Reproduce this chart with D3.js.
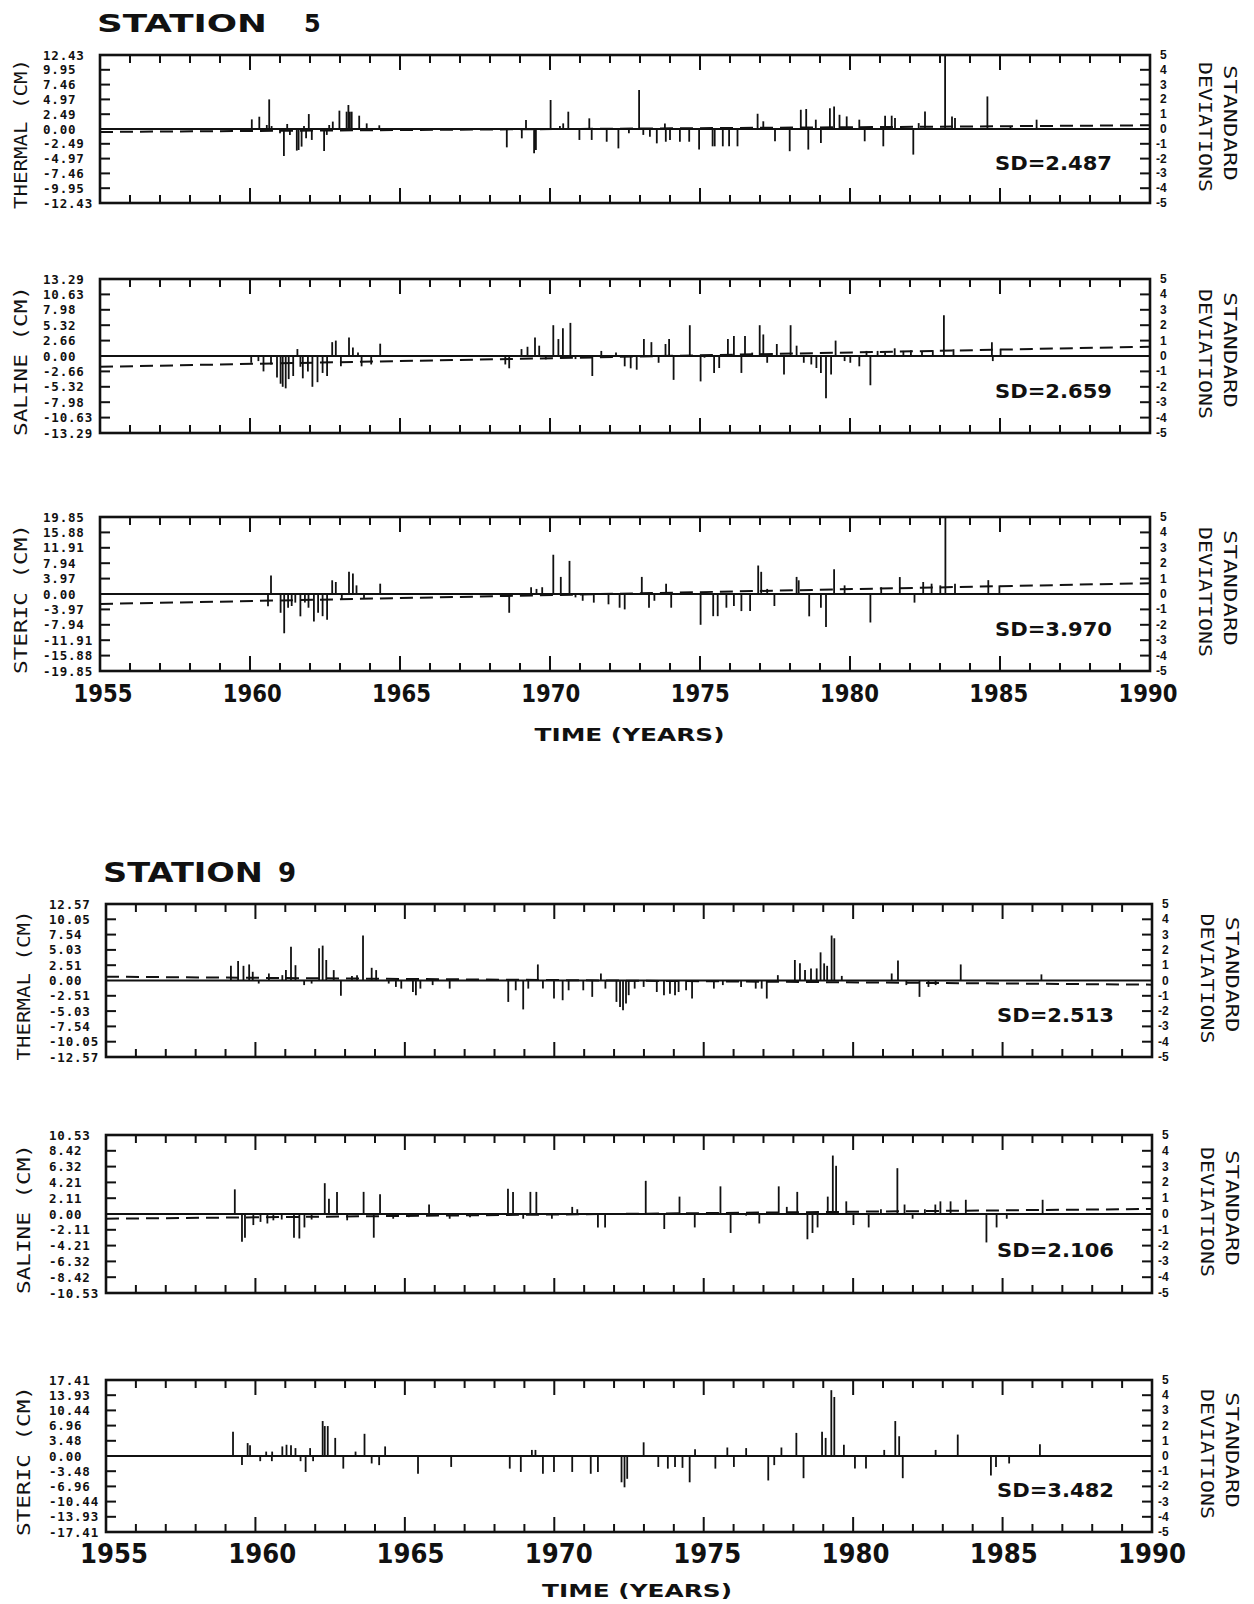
<!DOCTYPE html>
<html>
<head>
<meta charset="utf-8">
<script src="https://cdn.jsdelivr.net/npm/d3@7"></script>
<style>
  body { margin: 0; background: #fff; }
  svg { display: block; }
</style>
</head>
<body>
<svg id="chart" width="1254" height="1604"></svg>
<script>
// anomalies in standard-deviation units: [year, sd]
const s5Thermal = [
  [1960.06,0.65],[1960.31,0.83],[1960.56,0.27],[1960.64,2.0],[1960.72,0.2],[1961.0,-0.29],[1961.13,-1.82],[1961.24,0.34],
  [1961.33,-0.4],[1961.56,-1.46],[1961.62,-1.42],[1961.72,-1.19],[1961.8,0.2],[1961.87,-0.63],[1961.96,1.01],[1962.06,-0.74],
  [1962.47,-1.49],[1962.56,-0.4],[1962.64,0.27],[1962.76,0.5],[1962.98,1.24],[1963.22,1.17],[1963.28,1.62],[1963.33,1.17],
  [1963.39,1.17],[1963.64,0.9],[1963.89,0.38],[1964.31,0.25],
  [1968.56,-1.24],[1969.06,-0.63],[1969.2,0.61],[1969.47,-1.64],[1969.53,-1.42],[1970.02,1.96],[1970.33,0.2],[1970.44,0.38],
  [1970.61,1.17],[1970.98,-0.74],[1971.31,0.72],[1971.39,-0.74],[1971.89,-0.86],[1972.28,-1.31],[1972.63,-0.29],[1972.97,2.64],
  [1973.11,-0.4],[1973.33,-0.52],[1973.56,-0.97],[1973.83,0.38],[1973.86,-0.86],[1974.0,-0.74],[1974.33,-0.86],[1974.64,-0.86],
  [1974.97,-1.39],[1975.42,-1.17],[1975.49,-1.17],[1975.76,-1.17],[1975.97,-1.17],[1976.25,-1.17],[1976.92,1.03],[1977.11,0.52],
  [1977.5,-0.83],[1977.99,-1.5],[1978.36,1.3],[1978.54,1.35],[1978.61,-1.39],[1978.86,0.63],[1979.03,-0.94],[1979.33,1.41],
  [1979.47,1.52],[1979.65,0.96],[1979.89,0.85],[1980.31,0.63],[1980.49,-0.83],[1981.11,-1.17],[1981.17,0.9],[1981.39,0.9],
  [1981.5,0.74],[1982.11,-1.73],[1982.29,0.4],[1982.5,1.19],[1983.17,5.0],[1983.4,0.85],[1983.5,0.74],[1984.58,2.2],
  [1985.35,0.2],[1986.22,0.63]
];
const s5Saline = [
  [1960.04,-0.44],[1960.28,-0.33],[1960.45,-1.0],[1960.7,-0.56],[1960.9,-1.4],[1961.02,-1.8],[1961.09,-2.0],[1961.19,-2.1],
  [1961.29,-1.5],[1961.44,-1.3],[1961.58,0.45],[1961.68,-0.7],[1961.76,-1.45],[1961.93,-1.0],[1962.08,-2.0],[1962.25,-1.7],
  [1962.42,-1.1],[1962.57,-1.3],[1962.74,0.9],[1962.86,1.0],[1963.03,-0.67],[1963.3,1.2],[1963.43,0.55],[1963.6,0.22],
  [1963.72,-0.67],[1964.04,-0.55],[1964.34,0.8],
  [1968.51,-0.55],[1968.64,-0.8],[1969.05,0.45],[1969.25,0.6],[1969.5,1.2],[1969.64,0.67],[1969.86,-0.22],[1970.11,2.0],
  [1970.28,1.1],[1970.43,1.8],[1970.68,2.15],[1970.85,-0.2],[1971.41,-1.3],[1971.71,0.33],[1972.2,0.22],[1972.49,-0.67],
  [1972.69,-0.8],[1972.89,-0.89],[1973.13,1.1],[1973.38,0.9],[1973.62,-0.44],[1973.85,0.78],[1973.97,1.1],[1974.12,-1.55],
  [1974.66,2.0],[1975.02,-1.65],[1975.15,-0.11],[1975.47,-1.1],[1975.64,-0.78],[1975.93,1.1],[1976.13,1.3],[1976.38,-1.1],
  [1976.5,1.3],[1976.74,0.22],[1976.99,2.0],[1977.11,1.4],[1977.24,-0.44],[1977.56,0.78],[1977.8,-1.2],[1978.02,2.0],
  [1978.22,0.67],[1978.46,-0.44],[1978.71,-0.55],[1978.88,-0.78],[1979.03,-1.1],[1979.2,-2.75],[1979.37,-1.2],[1979.52,1.0],
  [1979.82,-0.33],[1980.01,-0.44],[1980.31,-0.67],[1980.55,0.33],[1980.68,-1.9],[1980.92,0.33],[1981.17,0.22],[1981.49,0.5],
  [1981.78,0.33],[1982.03,0.38],[1982.4,0.29],[1982.76,0.38],[1983.13,2.65],[1983.45,0.44],[1984.73,0.9],[1984.76,-0.33],
  [1985.02,0.44]
];
const s5Steric = [
  [1960.6,-0.8],[1960.7,1.2],[1961.02,-1.22],[1961.14,-2.55],[1961.27,-0.89],[1961.39,-0.78],[1961.51,-0.56],[1961.68,-1.45],
  [1961.83,-0.56],[1961.95,-0.89],[1962.13,-1.78],[1962.27,-1.22],[1962.42,-1.44],[1962.57,-1.67],[1962.74,0.89],[1962.86,0.78],
  [1963.06,-0.33],[1963.3,1.44],[1963.43,1.33],[1963.55,0.56],[1963.8,-0.33],[1964.34,0.67],
  [1968.64,-1.22],[1969.37,0.44],[1969.55,0.33],[1969.74,0.44],[1970.11,2.55],[1970.36,1.11],[1970.65,2.15],[1970.85,-0.22],
  [1971.09,-0.44],[1971.46,-0.56],[1971.95,-0.67],[1972.32,-0.89],[1972.49,-1.0],[1973.06,1.11],[1973.3,-0.89],[1973.48,-0.44],
  [1973.87,0.67],[1974.04,-0.89],[1975.02,-2.0],[1975.44,-1.44],[1975.59,-1.44],[1975.88,-0.89],[1976.13,-0.78],[1976.38,-1.11],
  [1976.67,-1.11],[1976.94,1.85],[1977.04,1.44],[1977.24,0.33],[1977.48,-0.78],[1978.22,1.11],[1978.29,0.89],[1978.64,-1.45],
  [1979.03,-0.89],[1979.2,-2.15],[1979.47,1.6],[1979.82,0.56],[1980.68,-1.85],[1981.04,0.44],[1981.66,1.1],[1982.15,-0.56],
  [1982.44,0.78],[1982.72,0.67],[1983.01,0.56],[1983.18,5.0],[1983.5,0.67],[1984.61,0.9],[1984.98,0.56]
];
const s9Thermal = [
  [1959.18,0.96],[1959.42,1.27],[1959.6,0.96],[1959.79,1.05],[1959.91,0.57],[1960.11,-0.2],[1960.45,0.46],[1960.9,0.35],
  [1961.02,0.68],[1961.19,2.21],[1961.34,1.0],[1961.63,-0.3],[1961.88,-0.2],[1962.13,2.1],[1962.25,2.28],[1962.37,1.34],
  [1962.62,0.68],[1962.86,-1.0],[1963.23,0.3],[1963.4,0.35],[1963.6,2.94],[1963.89,0.83],[1964.04,0.68],[1964.46,-0.2],
  [1964.7,-0.42],[1964.88,-0.53],[1965.27,-0.75],[1965.37,-0.96],[1965.52,-0.53],[1965.93,-0.3],[1966.5,-0.53],
  [1968.46,-1.4],[1968.71,-0.64],[1968.96,-1.89],[1969.13,-0.53],[1969.45,1.05],[1969.62,-0.53],[1969.99,-1.18],[1970.28,-1.29],
  [1970.48,-0.64],[1970.97,-0.64],[1971.27,-1.07],[1971.56,0.46],[1971.71,-0.53],[1972.08,-1.4],[1972.2,-1.73],[1972.3,-1.95],
  [1972.4,-1.51],[1972.49,-0.96],[1972.69,-0.53],[1972.99,-0.42],[1973.43,-0.75],[1973.67,-0.96],[1973.87,-0.86],[1974.04,-0.96],
  [1974.16,-0.75],[1974.41,-0.64],[1974.61,-1.18],[1975.34,-0.53],[1975.64,-0.3],[1976.25,-0.42],[1976.74,-0.53],[1976.94,-0.53],
  [1977.11,-1.18],[1977.48,0.35],[1978.05,1.34],[1978.22,1.12],[1978.39,0.68],[1978.59,0.79],[1978.78,0.79],[1978.91,1.84],
  [1979.03,1.12],[1979.13,0.96],[1979.28,2.94],[1979.37,2.76],[1979.62,0.3],[1981.29,0.46],[1981.5,1.3],[1981.78,-0.3],
  [1982.22,-1.07],[1982.52,-0.42],[1982.76,-0.3],[1983.6,1.05],[1986.3,0.4]
];
const s9Saline = [
  [1959.31,1.56],[1959.55,-1.75],[1959.65,-1.5],[1959.93,-0.7],[1960.17,-0.5],[1960.4,-0.6],[1960.6,-0.4],[1960.88,-0.35],
  [1961.29,-1.5],[1961.47,-1.55],[1961.64,-0.85],[1961.88,-0.35],[1962.32,1.95],[1962.46,0.97],[1962.73,1.4],[1963.07,-0.4],
  [1963.62,1.4],[1963.96,-1.5],[1964.17,1.25],[1964.61,-0.3],[1965.13,-0.2],[1965.81,0.6],[1966.5,-0.3],[1967.18,-0.2],
  [1968.45,1.6],[1968.62,1.4],[1968.96,-0.3],[1969.2,1.4],[1969.4,1.4],[1969.92,-0.3],[1970.6,0.45],[1970.77,0.3],
  [1971.46,-0.85],[1971.7,-0.85],[1973.06,2.1],[1973.68,-0.95],[1974.19,1.1],[1974.7,-0.85],[1975.56,1.75],[1975.9,-1.2],
  [1976.42,-0.1],[1976.86,-0.6],[1977.51,1.75],[1977.78,0.45],[1978.13,1.4],[1978.47,-1.6],[1978.64,-1.2],[1978.81,-0.85],
  [1979.15,1.1],[1979.32,3.7],[1979.43,3.05],[1979.77,0.8],[1980.01,-0.7],[1980.52,-0.85],[1980.93,0.3],[1981.48,2.9],
  [1981.72,0.6],[1981.99,-0.3],[1982.4,0.3],[1982.75,0.6],[1982.92,0.8],[1983.26,0.8],[1983.77,0.9],[1984.46,-1.8],
  [1984.8,-0.85],[1985.14,-0.3],[1986.34,0.9]
];
const s9Steric = [
  [1959.25,1.59],[1959.55,-0.6],[1959.74,0.85],[1959.82,0.7],[1960.16,-0.34],[1960.36,0.29],[1960.55,-0.34],[1960.56,0.29],
  [1960.9,0.63],[1961.04,0.74],[1961.19,0.7],[1961.34,0.52],[1961.51,-0.34],[1961.68,-1.05],[1961.83,0.52],[1961.93,-0.34],
  [1962.25,2.3],[1962.32,1.97],[1962.42,1.97],[1962.67,1.19],[1962.94,-0.83],[1963.35,0.29],[1963.65,1.46],[1963.89,-0.49],
  [1964.14,-0.6],[1964.34,0.63],[1965.44,-1.17],[1966.55,-0.72],[1968.51,-0.83],[1968.88,-1.05],[1969.25,0.4],[1969.37,0.4],
  [1969.62,-1.17],[1969.99,-1.05],[1970.6,-1.05],[1971.22,-1.17],[1971.46,-1.05],[1972.25,-1.73],[1972.35,-2.06],[1972.44,-1.5],
  [1972.99,0.9],[1973.48,-0.72],[1973.8,-0.83],[1974.04,-0.72],[1974.29,-0.78],[1974.53,-1.73],[1974.71,0.45],[1975.39,-0.83],
  [1975.79,0.56],[1976.01,-0.72],[1976.42,0.52],[1977.16,-1.61],[1977.36,-0.6],[1977.6,0.56],[1978.1,1.52],[1978.34,-1.46],
  [1978.96,1.59],[1979.08,1.19],[1979.27,4.33],[1979.37,3.88],[1979.69,0.74],[1980.06,-0.83],[1980.43,-0.83],[1981.04,0.4],
  [1981.41,2.3],[1981.54,1.3],[1981.66,-1.46],[1982.76,0.4],[1983.5,1.41],[1984.61,-1.28],[1984.78,-0.72],[1985.22,-0.49],
  [1986.25,0.78]
];

// dashed trend lines: sd value at 1955 and at 1990
const s5ThermalTrend = [-0.2, 0.25];
const s5SalineTrend = [-0.7, 0.6];
const s5StericTrend = [-0.65, 0.7];
const s9ThermalTrend = [0.25, -0.27];
const s9SalineTrend = [-0.3, 0.32];

// left tick labels, top to bottom (+5 sd .. -5 sd)
const s5ThermalLabels = ["12.43","9.95","7.46","4.97","2.49","0.00","-2.49","-4.97","-7.46","-9.95","-12.43"];
const s5SalineLabels = ["13.29","10.63","7.98","5.32","2.66","0.00","-2.66","-5.32","-7.98","-10.63","-13.29"];
const s5StericLabels = ["19.85","15.88","11.91","7.94","3.97","0.00","-3.97","-7.94","-11.91","-15.88","-19.85"];
const s9ThermalLabels = ["12.57","10.05","7.54","5.03","2.51","0.00","-2.51","-5.03","-7.54","-10.05","-12.57"];
const s9SalineLabels = ["10.53","8.42","6.32","4.21","2.11","0.00","-2.11","-4.21","-6.32","-8.42","-10.53"];
const s9StericLabels = ["17.41","13.93","10.44","6.96","3.48","0.00","-3.48","-6.96","-10.44","-13.93","-17.41"];

const sdLevels = [5, 4, 3, 2, 1, 0, -1, -2, -3, -4, -5];
const yearTicks = d3.range(1955, 1991);
const yearLabels = [1955, 1960, 1965, 1970, 1975, 1980, 1985, 1990];
const s5Sd = ["2.487", "2.659", "3.970"];
const s9Sd = ["2.513", "2.106", "3.482"];
const panelNames = ["THERMAL (CM)", "SALINE (CM)", "STERIC (CM)"];

const svg = d3.select("#chart");
const ink = "#111";
const heavy = "'DejaVu Sans', 'Liberation Sans', Arial, sans-serif";

function drawPanel(x, top, bottom, bars, trend, labels, sd, name, labelX, titleX) {
    let y = d3.scaleLinear().domain([-5, 5]).range([bottom, top]);
    let x0 = x.range()[0], x1 = x.range()[1];
    let g = svg.append("g");

    // bars
    g.selectAll("line.bar")
        .data(bars)
        .enter()
        .append("line")
        .attr("x1", d => x(d[0]))
        .attr("x2", d => x(d[0]))
        .attr("y1", y(0))
        .attr("y2", d => y(Math.max(-5, Math.min(5, d[1]))))
        .attr("stroke", ink)
        .attr("stroke-width", 1.8);

    // trend (dashed)
    if (trend) {
        g.append("line")
            .attr("x1", x(1955)).attr("y1", y(trend[0]))
            .attr("x2", x(1990)).attr("y2", y(trend[1]))
            .attr("stroke", ink).attr("stroke-width", 2)
            .attr("stroke-dasharray", "13,7");
    }

    // zero line
    g.append("line")
        .attr("x1", x0).attr("x2", x1)
        .attr("y1", y(0)).attr("y2", y(0))
        .attr("stroke", ink).attr("stroke-width", 2.2);

    // frame
    g.append("rect")
        .attr("x", x0).attr("y", top)
        .attr("width", x1 - x0).attr("height", bottom - top)
        .attr("fill", "none").attr("stroke", ink).attr("stroke-width", 2.6);

    // year ticks, top and bottom
    let tickLen = d => (d % 5 == 0 ? 15 : 8);
    g.selectAll("line.ttop")
        .data(yearTicks.slice(1, -1))
        .enter()
        .append("line")
        .attr("x1", d => x(d)).attr("x2", d => x(d))
        .attr("y1", top).attr("y2", d => top + tickLen(d))
        .attr("stroke", ink).attr("stroke-width", 2);
    g.selectAll("line.tbot")
        .data(yearTicks.slice(1, -1))
        .enter()
        .append("line")
        .attr("x1", d => x(d)).attr("x2", d => x(d))
        .attr("y1", bottom).attr("y2", d => bottom - tickLen(d))
        .attr("stroke", ink).attr("stroke-width", 2);

    // sd ticks, left and right
    let inner = sdLevels.filter(d => Math.abs(d) < 5 && d != 0);
    g.selectAll("line.tl")
        .data(inner)
        .enter()
        .append("line")
        .attr("x1", x0).attr("x2", x0 + 10)
        .attr("y1", d => y(d)).attr("y2", d => y(d))
        .attr("stroke", ink).attr("stroke-width", 2);
    g.selectAll("line.tr")
        .data(inner)
        .enter()
        .append("line")
        .attr("x1", x1).attr("x2", x1 - 10)
        .attr("y1", d => y(d)).attr("y2", d => y(d))
        .attr("stroke", ink).attr("stroke-width", 2);

    // left labels (cm)
    g.selectAll("text.ll")
        .data(labels)
        .enter()
        .append("text")
        .attr("x", labelX)
        .attr("y", (d, i) => y(sdLevels[i]))
        .attr("dominant-baseline", "central")
        .attr("font-family", "'DejaVu Sans Mono', monospace")
        .attr("font-weight", "bold")
        .attr("font-size", 12.5)
        .attr("letter-spacing", 0.8)
        .attr("fill", ink)
        .text(d => d);

    // right labels (sd)
    g.selectAll("text.rl")
        .data(sdLevels)
        .enter()
        .append("text")
        .attr("x", d => x1 + (d < 0 ? 6 : 10))
        .attr("y", d => y(d))
        .attr("dominant-baseline", "central")
        .attr("font-family", "'Liberation Sans', Arial, sans-serif")
        .attr("font-weight", "bold")
        .attr("font-size", 12)
        .attr("fill", ink)
        .text(d => d);

    // left axis title
    let cy = (top + bottom) / 2 + 5;
    g.append("text")
        .attr("transform", `translate(${titleX},${cy}) rotate(-90)`)
        .attr("text-anchor", "middle")
        .attr("dominant-baseline", "central")
        .attr("font-family", "'DejaVu Sans Mono', monospace")
        .attr("font-size", 17)
        .attr("textLength", 150)
        .attr("lengthAdjust", "spacingAndGlyphs")
        .attr("fill", ink)
        .text(name);

    // right axis title
    let ry = (top + bottom) / 2 - 6;
    g.append("text")
        .attr("transform", `translate(${x1 + 80},${ry}) rotate(90)`)
        .attr("text-anchor", "middle")
        .attr("dominant-baseline", "central")
        .attr("font-family", "'DejaVu Sans Mono', monospace")
        .attr("font-size", 17)
        .attr("textLength", 116)
        .attr("lengthAdjust", "spacingAndGlyphs")
        .attr("fill", ink)
        .text("STANDARD");
    g.append("text")
        .attr("transform", `translate(${x1 + 55},${ry + 4}) rotate(90)`)
        .attr("text-anchor", "middle")
        .attr("dominant-baseline", "central")
        .attr("font-family", "'DejaVu Sans Mono', monospace")
        .attr("font-size", 17)
        .attr("textLength", 130)
        .attr("lengthAdjust", "spacingAndGlyphs")
        .attr("fill", ink)
        .text("DEVIATIONS");

    // SD text
    g.append("text")
        .attr("x", x1 - 38)
        .attr("y", y(-2.2) + 8)
        .attr("text-anchor", "end")
        .attr("font-family", heavy)
        .attr("font-weight", "bold")
        .attr("font-size", 20)
        .attr("textLength", 117)
        .attr("lengthAdjust", "spacingAndGlyphs")
        .attr("fill", ink)
        .text("SD=" + sd);
}

function drawStation(num, x, panels, labelRange, titleY, titleSize, titleW, numX,
                     yearY, yearSize, yearW, timeY, labelX, titleX) {
    svg.append("text")
        .attr("x", x.range()[0] - 3).attr("y", titleY)
        .attr("font-family", heavy)
        .attr("font-weight", "bold").attr("font-size", titleSize)
        .attr("textLength", titleW).attr("lengthAdjust", "spacingAndGlyphs")
        .attr("fill", ink).text("STATION");
    svg.append("text")
        .attr("x", numX).attr("y", titleY)
        .attr("font-family", heavy)
        .attr("font-weight", "bold").attr("font-size", titleSize)
        .attr("fill", ink).text(num);

    panels.forEach(p => drawPanel(x, p.top, p.bottom, p.bars, p.trend, p.labels, p.sd, p.name, labelX, titleX));

    let lx = d3.scaleLinear().domain([1955, 1990]).range(labelRange);
    svg.selectAll(null)
        .data(yearLabels)
        .enter()
        .append("text")
        .attr("x", d => lx(d))
        .attr("y", yearY)
        .attr("text-anchor", "middle")
        .attr("font-family", heavy)
        .attr("font-weight", "bold")
        .attr("font-size", yearSize)
        .attr("textLength", yearW)
        .attr("lengthAdjust", "spacingAndGlyphs")
        .attr("fill", ink)
        .text(d => d);

    svg.append("text")
        .attr("x", (labelRange[0] + labelRange[1]) / 2 + 4).attr("y", timeY)
        .attr("text-anchor", "middle")
        .attr("font-family", heavy)
        .attr("font-weight", "bold").attr("font-size", 18)
        .attr("textLength", 190).attr("lengthAdjust", "spacingAndGlyphs")
        .attr("fill", ink).text("TIME (YEARS)");
}

// Station 5
let x5 = d3.scaleLinear().domain([1955, 1990]).range([100, 1150]);
drawStation("5", x5, [
    {top: 55, bottom: 203, bars: s5Thermal, trend: s5ThermalTrend, labels: s5ThermalLabels, sd: s5Sd[0], name: panelNames[0]},
    {top: 279, bottom: 433, bars: s5Saline, trend: s5SalineTrend, labels: s5SalineLabels, sd: s5Sd[1], name: panelNames[1]},
    {top: 517, bottom: 671, bars: s5Steric, trend: s5StericTrend, labels: s5StericLabels, sd: s5Sd[2], name: panelNames[2]}
], [103, 1148], 32, 24, 170, 304, 702, 24, 59, 741, 43, 21);

// Station 9
let x9 = d3.scaleLinear().domain([1955, 1990]).range([106, 1152]);
drawStation("9", x9, [
    {top: 904, bottom: 1057, bars: s9Thermal, trend: s9ThermalTrend, labels: s9ThermalLabels, sd: s9Sd[0], name: panelNames[0]},
    {top: 1135, bottom: 1293, bars: s9Saline, trend: s9SalineTrend, labels: s9SalineLabels, sd: s9Sd[1], name: panelNames[1]},
    {top: 1380, bottom: 1532, bars: s9Steric, trend: null, labels: s9StericLabels, sd: s9Sd[2], name: panelNames[2]}
], [114, 1152], 882, 26, 160, 278, 1563, 27, 68, 1597, 49, 24);
</script>
</body>
</html>
